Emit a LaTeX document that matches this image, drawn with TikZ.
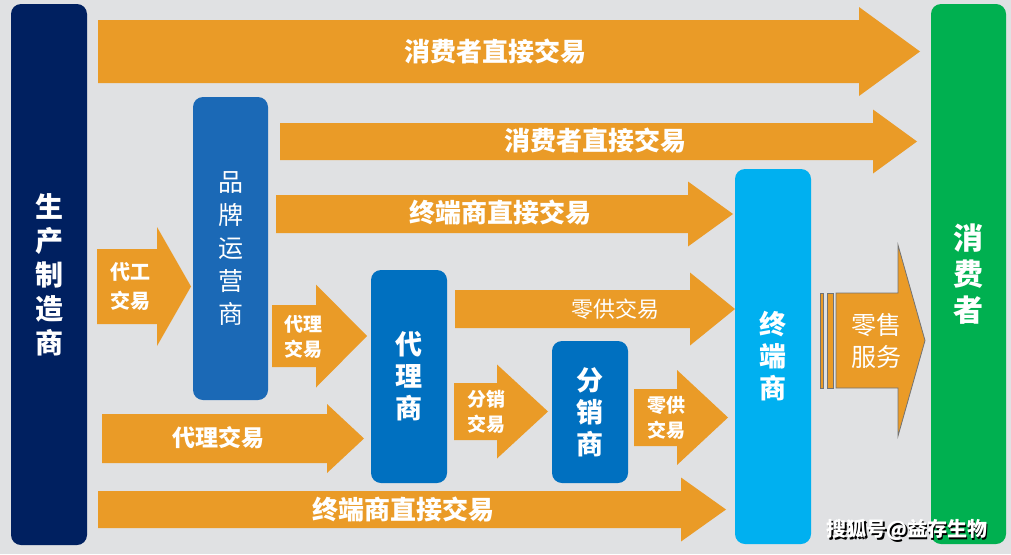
\documentclass[tikz,border=0pt]{standalone}
\usepackage{fontspec}
\setmainfont{Noto Sans CJK SC}
\definecolor{bggray}{HTML}{E0E1E3}
\definecolor{arrorange}{HTML}{EA9B27}
\definecolor{navy}{HTML}{002060}
\definecolor{brandblue}{HTML}{1B69B6}
\definecolor{agentblue}{HTML}{0070C0}
\definecolor{termblue}{HTML}{00B0F0}
\definecolor{consgreen}{HTML}{00B050}
\tikzset{
  box/.style={rounded corners=10pt, inner sep=0pt, text=white, align=center},
  boxbold/.style={box, font=\bfseries\fontsize{28}{34}\selectfont},
  lbl/.style={text=white, align=center, inner sep=0pt},
  lblbig/.style={lbl, font=\bfseries\fontsize{26}{26}\selectfont},
  lblsmall/.style={lbl, font=\bfseries\fontsize{19}{25}\selectfont},
}
% fat arrow: [style] x0, head base x, tip x, centre y, half body, half head
\newcommand\fatarrow[7][]{%
  \path[fill=arrorange,#1] (#2,{#5-#6}) -- (#3,{#5-#6}) -- (#3,{#5-#7}) -- (#4,#5)
    -- (#3,{#5+#7}) -- (#3,{#5+#6}) -- (#2,{#5+#6}) -- cycle;}
\begin{document}
\begin{tikzpicture}[x=1pt,y=-1pt]
\useasboundingbox (0,0) rectangle (1011,554);
\fill[bggray] (0,0) rectangle (1011,554);
% boxes
\node[boxbold, fill=navy, minimum width=76, minimum height=541] (maker) at (49,274.5) {生\\产\\制\\造\\商};
\node[box, fill=brandblue, minimum width=75, minimum height=303, font=\fontsize{25}{33}\selectfont] (brand) at (230.5,248.5) {品\\牌\\运\\营\\商};
\node[boxbold, fill=agentblue, minimum width=76, minimum height=213, font=\bfseries\fontsize{27}{32}\selectfont] (agent) at (409,376.5) {代\\理\\商};
\node[boxbold, fill=agentblue, minimum width=76, minimum height=142, font=\bfseries\fontsize{27}{32}\selectfont] (dist) at (590,412) {分\\销\\商};
\node[boxbold, fill=termblue, minimum width=76, minimum height=375, font=\bfseries\fontsize{27}{32}\selectfont] (term) at (773,356.5) {终\\端\\商};
\node[boxbold, fill=consgreen, minimum width=75, minimum height=540, font=\bfseries\fontsize{30}{36}\selectfont] (cons) at (968.5,274) {消\\费\\者};
% arrows
\fatarrow{98}{859}{920}{51.5}{31.5}{44.5}
\fatarrow{280}{873}{917}{141.5}{18.5}{32}
\fatarrow{276}{688}{733}{214}{19}{32.5}
\fatarrow{455}{690}{735}{309}{19}{36.5}
\fatarrow{97}{157}{191}{286.5}{37.5}{59.5}
\fatarrow{272}{316}{367}{336}{31}{51.5}
\fatarrow{454}{497}{548}{411.5}{28.5}{47}
\fatarrow{634}{677}{728}{417.5}{28.5}{47.5}
\fatarrow{102}{327}{364}{438.5}{24.5}{34.5}
\fatarrow{98}{681}{726}{509.5}{18.5}{32}
\fatarrow[draw=black!55, line width=0.8pt]{836}{898}{925}{340.5}{47.5}{95.5}
\filldraw[fill=arrorange, draw=black!55, line width=0.8pt] (820,293) rectangle (823,388);
\filldraw[fill=arrorange, draw=black!55, line width=0.8pt] (827,293) rectangle (833,388);
% labels
\node[lblbig] (direct1) at (495,52) {消费者直接交易};
\node[lblbig] (direct2) at (595,141) {消费者直接交易};
\node[lblbig] (direct3) at (500,213) {终端商直接交易};
\node[lblbig] (direct4) at (403,510) {终端商直接交易};
\node[lbl, font=\bfseries\fontsize{23}{23}\selectfont] (agency1) at (218,438) {代理交易};
\node[lbl, font=\fontsize{22}{22}\selectfont] (supply1) at (615,309) {零供交易};
\node[lbl, font=\bfseries\fontsize{20}{29}\selectfont] (oem) at (130,286) {代工\\交易};
\node[lblsmall] (agency2) at (303,337) {代理\\交易};
\node[lblsmall] (distrib) at (486,412) {分销\\交易};
\node[lblsmall] (supply2) at (666,418) {零供\\交易};
\node[lbl, font=\fontsize{25}{32}\selectfont] (retail) at (876,341) {零售\\服务};
% watermark
\node[font=\bfseries\fontsize{20}{20}\selectfont, text=black] at (908.5,531.5) {搜狐号@益存生物};
\node[font=\bfseries\fontsize{20}{20}\selectfont, text=white] (mark) at (907,530) {搜狐号@益存生物};
\end{tikzpicture}
\end{document}
